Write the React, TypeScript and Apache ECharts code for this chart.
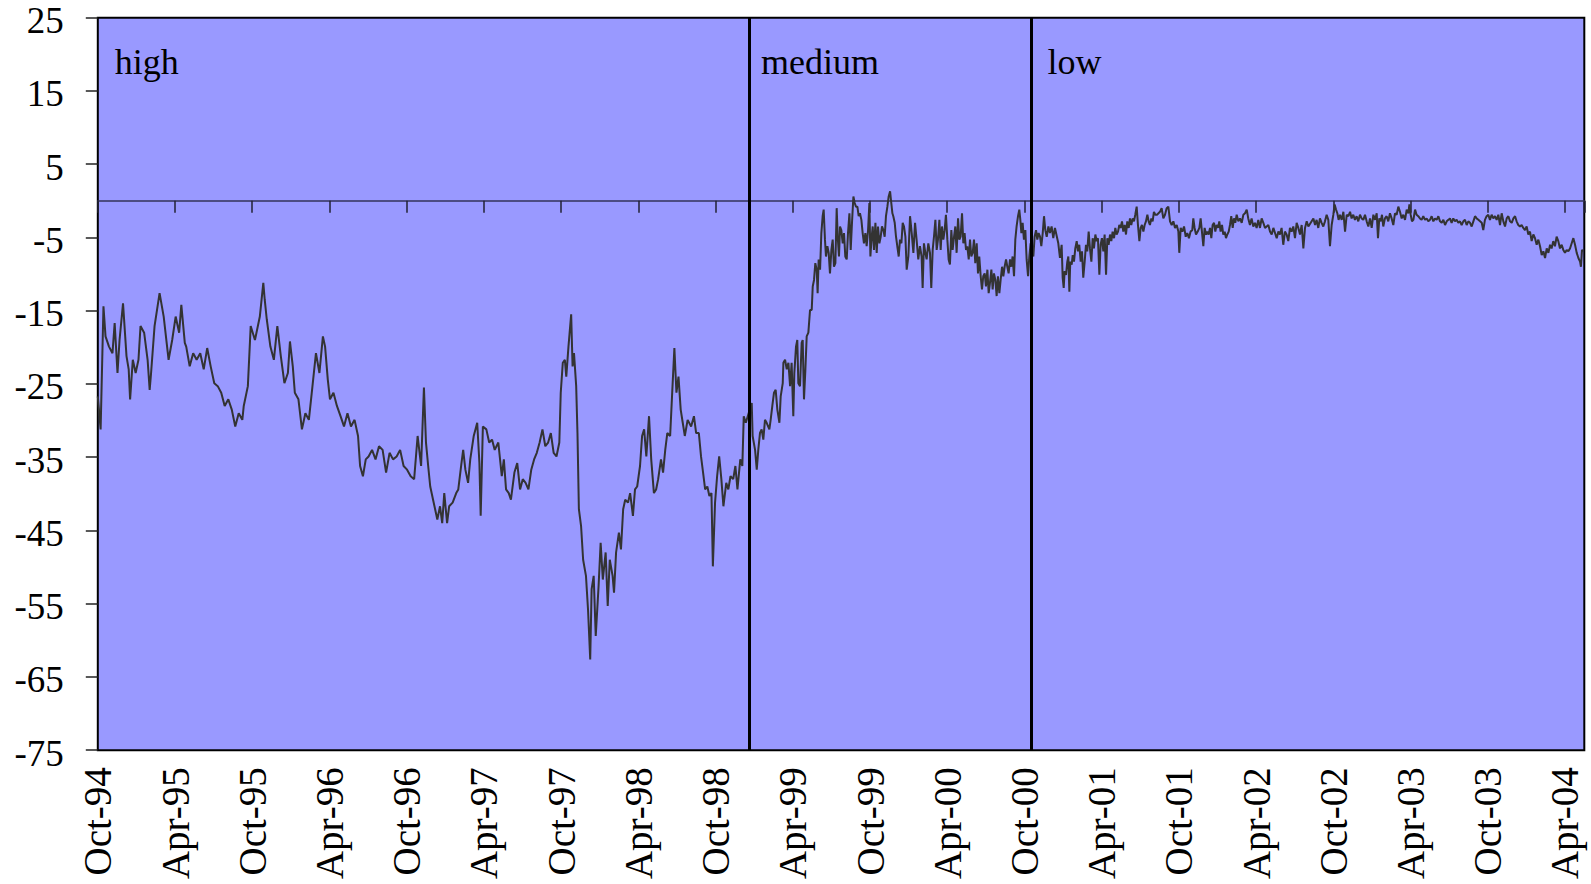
import React, { useEffect, useRef } from "react";
import * as echarts from "echarts";

// Time is measured in months elapsed since 1 October 1994; each point is [month, value].
const highRegime: [number, number][] = [
  [0, -26.7], [0.22, -31.2], [0.44, -14.4], [0.6, -18.5], [0.87, -19.9], [1.14, -20.8], [1.31, -16.7], [1.53, -23.5],
  [1.69, -19], [1.96, -14], [2.23, -21.2], [2.4, -23], [2.51, -27.1], [2.72, -21.7], [2.94, -23.5], [3.16, -21.7],
  [3.32, -17.1], [3.6, -18], [3.87, -21.7], [4.03, -25.8], [4.14, -23.5], [4.41, -17.1], [4.8, -12.6], [5.12, -15.8],
  [5.5, -21.7], [5.78, -19], [6.05, -15.8], [6.32, -18], [6.49, -14.2], [6.76, -19.4], [6.87, -19.9], [7.14, -22.6],
  [7.41, -20.8], [7.68, -21.7], [7.96, -20.8], [8.23, -23], [8.5, -20.1], [8.77, -22.6], [9.05, -24.9], [9.32, -25.3],
  [9.59, -26.2], [9.86, -28], [10.14, -27.1], [10.41, -28.5], [10.68, -30.8], [10.95, -29], [11.23, -29.9], [11.34, -28],
  [11.66, -25.3], [11.88, -17.1], [12.21, -19], [12.59, -15.8], [12.86, -11.2], [12.97, -13.5], [13.13, -16.2], [13.41, -19.9],
  [13.68, -21.7], [13.95, -17.1], [14.22, -21.2], [14.5, -24.9], [14.77, -23.5], [14.93, -19.2], [15.15, -22.6], [15.31, -26.2],
  [15.59, -27.1], [15.86, -31.2], [16.13, -29], [16.4, -29.9], [16.68, -25.3], [16.95, -20.8], [17.22, -23.5], [17.49, -18.5],
  [17.66, -19.9], [17.87, -24.4], [18.04, -27.1], [18.31, -26.2], [18.58, -28], [18.86, -29.4], [19.13, -30.8], [19.4, -29],
  [19.67, -30.8], [19.95, -29.9], [20.22, -32.1], [20.38, -36.2], [20.6, -37.6], [20.82, -35.3], [21.04, -34.9], [21.31, -34],
  [21.58, -35.3], [21.85, -33.5], [22.13, -34], [22.4, -37.1], [22.67, -34.4], [22.94, -35.3], [23.22, -34.9], [23.49, -34],
  [23.76, -36.2], [24.03, -36.7], [24.31, -37.6], [24.58, -38], [24.85, -32.1], [25.12, -36.2], [25.34, -25.5], [25.5, -33],
  [25.67, -36.2], [25.83, -39], [26.05, -40.8], [26.21, -42.1], [26.38, -43.5], [26.59, -41.7], [26.76, -44], [26.92, -39.9],
  [27.14, -44], [27.3, -41.7], [27.57, -41.2], [27.85, -39.9], [28.01, -39.4], [28.23, -36.2], [28.39, -34], [28.56, -36.7],
  [28.77, -38.5], [28.94, -35.3], [29.21, -32.1], [29.48, -30.3], [29.65, -35.8], [29.75, -43], [29.92, -30.8], [30.19, -31.2],
  [30.41, -33], [30.63, -32.6], [30.84, -34], [31.12, -33], [31.39, -37.6], [31.55, -35.3], [31.72, -39.4], [31.93, -39.9],
  [32.1, -40.8], [32.37, -37.1], [32.59, -35.8], [32.81, -39.4], [33.02, -38], [33.24, -38.5], [33.46, -39.4], [33.68, -36.7],
  [33.9, -35.3], [34.11, -34.4], [34.33, -33], [34.55, -31.2], [34.77, -33.5], [34.99, -33], [35.2, -31.7], [35.42, -34.4],
  [35.64, -34.9], [35.86, -33], [35.97, -26.2], [36.13, -22.1], [36.29, -21.7], [36.4, -24], [36.57, -19.9], [36.78, -15.5],
  [36.89, -22.6], [37, -20.8], [37.17, -25.3], [37.27, -31.7], [37.38, -42.1], [37.55, -44.4], [37.71, -49], [37.93, -51.2],
  [38.09, -55.8], [38.26, -62.6], [38.37, -53], [38.53, -51.2], [38.69, -59.4], [38.91, -52.6], [39.07, -46.7], [39.24, -51.7],
  [39.46, -48], [39.62, -55.3], [39.78, -49], [40, -51.2], [40.11, -53.5], [40.27, -48], [40.49, -45.3], [40.65, -47.6],
  [40.82, -42.1], [40.98, -40.8], [41.2, -41.2], [41.36, -39.9], [41.58, -43], [41.74, -39.4], [41.91, -39], [42.13, -36.2],
  [42.29, -32.1], [42.45, -31.2], [42.62, -34.9], [42.83, -29.4], [43, -35.3], [43.21, -39.9], [43.38, -39.4], [43.54, -38],
  [43.76, -35.3], [43.92, -37.1], [44.09, -34], [44.25, -31.7], [44.47, -32.1], [44.63, -26.2], [44.8, -20.1], [44.96, -26.2],
  [45.12, -24], [45.29, -28.5], [45.45, -30.3], [45.61, -32.1], [45.83, -29.9], [46.1, -30.8], [46.32, -29.4], [46.49, -31.7],
  [46.7, -31.7], [46.87, -34.9], [47.03, -37.1], [47.19, -39.4], [47.36, -39], [47.52, -40.3], [47.68, -39.9], [47.79, -49.9],
  [47.96, -41.2], [48.12, -37.6], [48.28, -34.9], [48.45, -38], [48.61, -41.7], [48.83, -38.5], [48.99, -39.4], [49.16, -37.6],
  [49.37, -38], [49.54, -36.2], [49.7, -39.4], [49.92, -35.3], [50.08, -36.2], [50.19, -29.4], [50.35, -30.3],
];

const mediumRegime: [number, number][] = [
  [50.81, -27.6], [50.88, -32.1], [51.07, -34], [51.2, -36.7], [51.32, -34], [51.45, -31.7], [51.58, -31.2], [51.71, -32.6],
  [51.84, -29.9], [51.97, -30.3], [52.18, -31.2], [52.28, -29.9], [52.41, -28], [52.54, -26.2], [52.67, -25.8], [52.8, -28.5],
  [52.96, -30.3], [53.06, -26.7], [53.22, -24.9], [53.27, -22.1], [53.4, -21.7], [53.53, -23], [53.66, -22.1], [53.79, -25.3],
  [53.91, -22.1], [54.04, -29.4], [54.12, -23.5], [54.25, -19.9], [54.35, -19], [54.43, -24.9], [54.56, -25.3], [54.69, -19.4],
  [54.77, -19], [54.87, -27.1], [54.98, -23], [55.08, -18.5], [55.21, -18], [55.34, -14.9], [55.47, -14.9], [55.55, -11.7],
  [55.65, -10.8], [55.75, -8.5], [55.86, -9.4], [55.93, -12.6], [56.01, -8], [56.12, -9.4], [56.22, -4.4], [56.32, -2.1],
  [56.4, -1.2], [56.5, -5.3], [56.58, -7.6], [56.69, -6.2], [56.79, -7.1], [56.89, -9.9], [57, -6.7], [57.1, -5.3],
  [57.2, -9], [57.31, -8.5], [57.41, -1], [57.49, -4.9], [57.59, -7.6], [57.67, -3.5], [57.77, -4], [57.88, -5.8],
  [57.98, -4.4], [58.08, -7.6], [58.19, -8], [58.29, -4.4], [58.4, -1.7], [58.5, -6.7], [58.6, -3], [58.71, 0.6],
  [58.81, -0.3], [58.91, -0.8], [59.02, -0.8], [59.12, -2.1], [59.22, -1.7], [59.33, -2.6], [59.43, -4.4], [59.53, -5.8],
  [59.64, -4.4], [59.74, -6.2], [59.85, -4], [59.95, -0.3], [60.03, -7.6], [60.13, -4.9], [60.21, -3.5], [60.31, -6.7],
  [60.42, -3], [60.52, -7.1], [60.62, -3.5], [60.73, -5.8], [60.83, -4.9], [60.93, -3.5], [61.04, -4], [61.14, -4.9],
  [61.24, -2.1], [61.35, -0.8], [61.45, 0.6], [61.56, 1.3], [61.63, 0.1], [61.74, -1.7], [61.81, -2.1], [61.92, -3],
  [62.02, -4.9], [62.12, -6.2], [62.23, -7.6], [62.33, -5.3], [62.44, -5.8], [62.54, -3], [62.64, -3.5], [62.75, -4.9],
  [62.85, -9.4], [62.98, -7.6], [63.11, -2.1], [63.24, -4.4], [63.37, -7.1], [63.5, -3], [63.62, -5.3], [63.75, -8],
  [63.88, -6.2], [64.01, -7.6], [64.09, -11.9], [64.19, -5.8], [64.3, -7.1], [64.4, -8], [64.53, -5.8], [64.66, -7.1],
  [64.76, -11.9], [64.87, -6.7], [64.97, -4.9], [65.08, -2.6], [65.18, -6.7], [65.28, -5.3], [65.39, -2.6], [65.49, -6.7],
  [65.59, -3.5], [65.7, -5.3], [65.8, -4], [65.9, -1.9], [66.01, -5.3], [66.11, -8], [66.21, -8.7], [66.32, -4],
  [66.42, -6.7], [66.53, -4.9], [66.63, -3.5], [66.73, -7.1], [66.84, -2.4], [66.94, -5.3], [67.04, -4.9], [67.15, -1.7],
  [67.25, -5.8], [67.35, -4.4], [67.46, -6.7], [67.56, -6.2], [67.67, -8], [67.77, -5.3], [67.87, -7.6], [67.98, -7.1],
  [68.08, -5.3], [68.18, -8.5], [68.29, -5.8], [68.39, -9.9], [68.49, -7.6], [68.6, -10.3], [68.7, -12.1], [68.8, -10.3],
  [68.91, -9.9], [69.01, -11.7], [69.12, -9.4], [69.22, -12.6], [69.32, -11.2], [69.43, -9.4], [69.53, -12.1], [69.63, -9.9],
  [69.74, -10.8], [69.84, -13], [69.94, -10.3], [70.05, -12.6], [70.15, -10.8], [70.26, -9], [70.36, -10.3], [70.46, -9],
  [70.57, -8], [70.67, -9], [70.77, -9.9], [70.88, -8], [70.98, -9], [71.08, -7.6], [71.19, -10.3], [71.29, -5.3],
  [71.39, -3.5], [71.5, -2.1], [71.6, -1.2], [71.68, -2.6], [71.76, -4.4], [71.86, -3], [71.96, -5.3], [72.07, -4],
  [72.17, -8], [72.28, -10.3], [72.38, -7.6], [72.48, -5.8],
];

const lowRegime: [number, number][] = [
  [72.59, -6.7], [72.69, -7.6], [72.79, -4.9], [72.9, -4], [73, -5.3], [73.1, -4.4], [73.21, -4.9], [73.31, -6.2],
  [73.42, -4.4], [73.52, -2.1], [73.62, -4], [73.73, -4.9], [73.86, -3.5], [73.98, -4.4], [74.11, -3.5], [74.24, -5.1],
  [74.37, -3.7], [74.63, -5.8], [74.76, -7.8], [74.89, -6], [74.97, -10.5], [75.05, -11.9], [75.12, -9.6], [75.23, -10.1],
  [75.33, -8.3], [75.41, -7.6], [75.49, -12.4], [75.56, -8.3], [75.67, -8.7], [75.75, -7.4], [75.85, -8.3], [75.95, -6.5],
  [76.06, -5.5], [76.16, -6.9], [76.26, -6], [76.37, -8.3], [76.47, -6.9], [76.57, -10.5], [76.68, -8.3], [76.78, -6],
  [76.88, -6.9], [76.99, -4.2], [77.09, -6.5], [77.2, -8.3], [77.3, -5.1], [77.4, -6.5], [77.51, -4.6], [77.61, -5.5],
  [77.71, -5.1], [77.82, -10.1], [77.92, -6], [78.02, -5.1], [78.13, -6.9], [78.23, -4.6], [78.34, -10.1], [78.44, -5.1],
  [78.54, -6], [78.65, -4.6], [78.75, -5.5], [78.85, -4.2], [78.96, -5.1], [79.06, -3.7], [79.16, -4.6], [79.27, -4.2],
  [79.37, -3.3], [79.47, -3.7], [79.58, -2.8], [79.68, -4.2], [79.79, -3.3], [79.89, -4.6], [79.99, -2.8], [80.1, -3.7],
  [80.2, -2.4], [80.3, -3.3], [80.41, -2.4], [80.51, -2.8], [80.61, -1.9], [80.72, -0.8], [80.82, -3.3], [80.93, -5.5],
  [81.03, -3.7], [81.13, -3.3], [81.24, -4.2], [81.34, -3.3], [81.44, -2.8], [81.55, -1.9], [81.65, -2.8], [81.75, -3.3],
  [81.86, -2.4], [81.96, -2.8], [82.06, -1.5], [82.17, -1.9], [82.3, -1.9], [82.53, -1.5], [82.66, -1], [82.79, -2.4],
  [82.92, -1.9], [83.05, -1], [83.18, -0.8], [83.31, -2.8], [83.44, -3.3], [83.57, -2.8], [83.7, -3.7], [83.83, -3.3],
  [83.96, -4.2], [84.03, -7.1], [84.14, -3.7], [84.27, -4.2], [84.4, -3.5], [84.53, -4.9], [84.65, -4.4], [84.78, -5.1],
  [84.91, -4.2], [85.04, -4], [85.12, -2.4], [85.22, -3.7], [85.33, -4.6], [85.46, -4.2], [85.59, -3.7], [85.69, -2.4],
  [85.79, -4.2], [85.9, -6.2], [86, -3.7], [86.11, -4.6], [86.21, -4.2], [86.31, -4.6], [86.42, -3.7], [86.52, -5.1],
  [86.62, -3.3], [86.73, -3], [86.83, -4.2], [86.93, -3.3], [87.04, -3.7], [87.14, -2.8], [87.24, -4.2], [87.35, -3.3],
  [87.45, -4.6], [87.56, -4.2], [87.66, -5.1], [87.76, -4.6], [87.87, -4.2], [87.97, -3.3], [88.07, -2.1], [88.18, -3.7],
  [88.28, -2.4], [88.38, -3], [88.49, -1.9], [88.62, -2.8], [88.75, -2.4], [88.88, -3], [89.01, -1.9], [89.14, -1.7],
  [89.27, -1.2], [89.39, -2.4], [89.52, -3.3], [89.65, -2.4], [89.78, -3.5], [89.91, -3], [90.04, -3.7], [90.17, -2.6],
  [90.3, -3.7], [90.43, -2.4], [90.56, -3], [90.69, -3.7], [90.82, -3.5], [90.95, -3.3], [91.08, -4.2], [91.21, -4.6],
  [91.34, -3.7], [91.47, -4.4], [91.6, -5.1], [91.73, -4.2], [91.85, -4.6], [91.98, -3.7], [92.11, -6], [92.24, -4.2],
  [92.37, -4.6], [92.5, -5.5], [92.63, -3.7], [92.76, -4.2], [92.89, -3.5], [93.02, -5.1], [93.15, -3], [93.28, -3.7],
  [93.41, -4.6], [93.54, -3.3], [93.67, -6.5], [93.8, -3.7], [93.93, -2.8], [94.06, -3.5], [94.45, -2.4], [94.58, -3.3],
  [94.7, -2.6], [94.83, -3.7], [94.96, -2.4], [95.09, -3], [95.22, -3.5], [95.35, -2.8], [95.48, -1.9], [95.61, -2.6],
  [95.74, -6.2], [95.87, -3.3], [96, -1.9], [96.1, -0.5], [96.21, -1.2], [96.31, -1.7], [96.41, -2.6], [96.52, -1.9],
  [96.65, -2.6], [96.78, -1.5], [96.91, -4.2], [97.04, -1.9], [97.17, -2.1], [97.3, -1.5], [97.42, -2.4], [97.55, -1.9],
  [97.68, -2.6], [97.81, -2.1], [97.94, -2.8], [98.07, -1.9], [98.2, -2.4], [98.33, -2.6], [98.46, -1.9], [98.59, -2.8],
  [98.72, -3.5], [98.85, -2.4], [98.98, -3.7], [99.11, -1.9], [99.24, -2.6], [99.37, -1.7], [99.47, -5.1], [99.57, -2.4],
  [99.68, -2.8], [99.78, -1.9], [99.88, -3.5], [100.01, -2.4], [100.14, -2.1], [100.27, -2.8], [100.4, -1.7], [100.53, -2.4],
  [100.66, -3.3], [100.79, -1.7], [100.92, -1.9], [101.05, -0.8], [101.18, -1.5], [101.31, -2.4], [101.44, -1.9], [101.57, -2.6],
  [101.7, -1.2], [101.83, -1.7], [101.91, -0.5], [102.01, -1.9], [102.11, -2.8], [102.22, -2.6], [102.35, -1.2], [102.47, -1.9],
  [102.6, -2.1], [102.73, -2.4], [102.86, -2.6], [102.99, -2.1], [103.12, -2.6], [103.25, -2.4], [103.38, -2.8], [103.51, -2.6],
  [103.64, -2.1], [103.77, -2.8], [103.9, -2.4], [104.03, -2.6], [104.16, -2.1], [104.29, -2.8], [104.42, -3], [104.55, -2.6],
  [104.68, -3.3], [104.81, -2.8], [104.94, -2.6], [105.06, -2.4], [105.19, -3], [105.32, -2.4], [105.45, -2.8], [105.58, -2.6],
  [105.71, -3], [105.84, -2.8], [105.97, -3.3], [106.1, -2.8], [106.23, -2.6], [106.36, -3.3], [106.49, -2.8], [106.62, -3],
  [106.75, -3.5], [106.88, -2.8], [107.01, -2.1], [107.14, -2.4], [107.27, -2.6], [107.4, -2.8], [107.53, -3], [107.65, -4],
  [107.78, -2.6], [107.91, -2.1], [108.04, -1.9], [108.17, -2.6], [108.3, -1.9], [108.43, -2.4], [108.56, -2.1], [108.69, -2.6],
  [108.82, -1.9], [108.95, -3.3], [109.08, -1.7], [109.21, -2.8], [109.34, -3.5], [109.47, -2.4], [109.6, -2.1], [109.73, -2.8],
  [109.86, -3], [109.99, -2.4], [110.12, -2.1], [110.24, -2.8], [110.37, -3.3], [110.5, -3.5], [110.63, -3.3], [110.76, -3.7],
  [110.89, -4], [111.02, -3.5], [111.15, -4.6], [111.28, -4.2], [111.41, -5.5], [111.54, -4.6], [111.67, -5.1], [111.8, -6],
  [111.93, -5.3], [112.06, -6.2], [112.19, -7.4], [112.32, -6.9], [112.45, -7.8], [112.58, -6.5], [112.71, -7.1], [112.84, -6],
  [112.96, -6.5], [113.09, -5.5], [113.22, -6.2], [113.35, -4.9], [113.48, -5.5], [113.61, -6.5], [113.74, -6], [113.87, -6.7],
  [114, -7.1], [114.13, -6.7], [114.26, -6.9], [114.39, -6.5], [114.52, -5.8], [114.65, -5.1], [114.78, -6], [114.91, -7.1],
  [115.04, -7.8], [115.17, -8.3], [115.24, -9], [115.32, -6.7], [115.42, -6.9],
];

// Six-monthly date labels along the bottom, one for every 6 months from Oct-94.
const tickLabels = [
  "Oct-94", "Apr-95", "Oct-95", "Apr-96", "Oct-96", "Apr-97", "Oct-97", "Apr-98", "Oct-98", "Apr-99",
  "Oct-99", "Apr-00", "Oct-00", "Apr-01", "Oct-01", "Apr-02", "Oct-02", "Apr-03", "Oct-03", "Apr-04",
];

// Regime boundaries (months since Oct 1994) and their names.
const regimeNames = ["high", "medium", "low"];
const regimeBreaks = [50.6, 72.55];
const timeEnd = 115.5;

const SERIF = "'Liberation Serif', 'Times New Roman', Times, serif";

export default function App() {
  const ref = useRef<HTMLDivElement>(null);

  useEffect(() => {
    if (!ref.current) return;
    const chart = echarts.init(ref.current, undefined, { renderer: "svg" });

    const bounds = [0, ...regimeBreaks, timeEnd];
    const labelOffsets: [number, number][] = [[12, 21], [7, 21], [11, 21]];
    const areas = regimeNames.map((name, i) => [
      {
        name,
        xAxis: bounds[i],
        label: { offset: labelOffsets[i] },
      },
      { xAxis: bounds[i + 1] },
    ]);

    chart.setOption({
      animation: false,
      backgroundColor: "#ffffff",
      grid: {
        left: 97.8,
        right: 6.7,
        top: 17.7,
        bottom: 133.8,
        show: true,
        backgroundColor: "#9999ff",
        borderColor: "#000000",
        borderWidth: 2,
      },
      xAxis: [
        {
          type: "value",
          position: "bottom",
          min: 0,
          max: timeEnd,
          interval: 6,
          axisLine: { show: false, onZero: false },
          axisTick: { show: false },
          splitLine: { show: false },
          axisLabel: {
            rotate: 90,
            margin: 17,
            fontSize: 39,
            color: "#000000",
            fontFamily: SERIF,
            showMaxLabel: false,
            formatter: (v: number) =>
              Math.abs(v / 6 - Math.round(v / 6)) < 1e-6 ? tickLabels[Math.round(v / 6)] ?? "" : "",
          },
        },
        {
          type: "value",
          position: "top",
          min: 0,
          max: timeEnd,
          interval: 6,
          axisLine: {
            show: true,
            onZero: true,
            lineStyle: { color: "#33335a", width: 1.5 },
          },
          axisTick: {
            show: true,
            inside: true,
            length: 12,
            lineStyle: { color: "#222233", width: 1.5 },
          },
          axisLabel: { show: false },
          splitLine: { show: false },
        },
      ],
      yAxis: {
        type: "value",
        min: -75,
        max: 25,
        interval: 10,
        axisLine: { show: false },
        axisTick: { show: true, length: 12, lineStyle: { color: "#222222", width: 1.5 } },
        splitLine: { show: false },
        axisLabel: {
          fontSize: 37,
          margin: 34,
          color: "#000000",
          fontFamily: SERIF,
          verticalAlign: "top",
          lineHeight: 6,
        },
      },
      series: [
        {
          type: "line",
          xAxisIndex: 0,
          data: [...highRegime, ...mediumRegime, ...lowRegime],
          showSymbol: false,
          symbol: "none",
          lineStyle: { color: "#333333", width: 2 },
          z: 3,
          markLine: {
            silent: true,
            symbol: ["none", "none"],
            label: { show: false },
            lineStyle: { color: "#000000", width: 3, type: "solid" },
            data: regimeBreaks.map((x) => ({ xAxis: x })),
          },
          markArea: {
            silent: true,
            itemStyle: { color: "rgba(0,0,0,0)" },
            label: {
              show: true,
              position: "insideTopLeft",
              distance: 5,
              fontSize: 36,
              color: "#000000",
              fontFamily: SERIF,
            },
            data: areas,
          },
        },
      ],
    });

    return () => chart.dispose();
  }, []);

  return (
    <div
      ref={ref}
      style={{ position: "fixed", left: 0, top: 0, width: 1591, height: 884, background: "#ffffff" }}
    />
  );
}
